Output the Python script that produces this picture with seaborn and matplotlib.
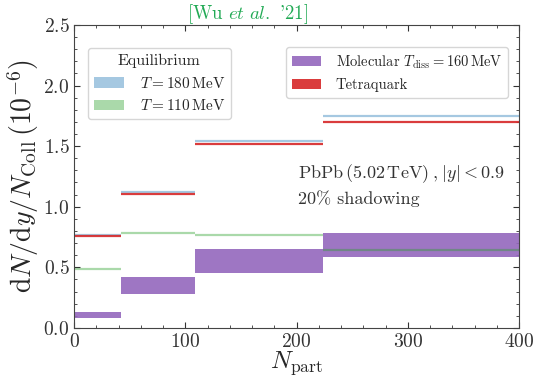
import numpy as np
import matplotlib
matplotlib.use('Agg')
import matplotlib.pyplot as plt
import matplotlib.patches as mpatches
from matplotlib.ticker import MultipleLocator
import seaborn as sns

sns.set_style('ticks')
plt.rcParams['font.family'] = 'serif'
plt.rcParams['font.serif'] = ['cmr10', 'DejaVu Serif']
plt.rcParams['mathtext.fontset'] = 'cm'
plt.rcParams['axes.formatter.use_mathtext'] = True

# N_part bin edges
edges = [0, 42, 109, 224, 400]

# equilibrium yields
eq_T180 = [0.77, 1.122, 1.545, 1.75]
eq_T110 = [0.49, 0.78, 0.765, 0.644]

# tetraquark
tetra = [0.76, 1.108, 1.518, 1.70]

# molecular band (lower, upper)
mol_lo = [0.08, 0.28, 0.456, 0.588]
mol_hi = [0.134, 0.42, 0.65, 0.786]

c_blue = (31/255, 119/255, 180/255, 0.4)
c_green = (44/255, 160/255, 44/255, 0.4)
c_purple = (148/255, 103/255, 189/255, 0.9)
c_red = (214/255, 39/255, 40/255, 0.9)

fig = plt.figure(figsize=(5.34, 3.77), dpi=100)
ax = fig.add_axes([0.139, 0.130, 0.833, 0.804])

lo_edges = edges[:-1]
hi_edges = edges[1:]

for i in range(len(mol_lo)):
    ax.fill_between([lo_edges[i], hi_edges[i]], mol_lo[i], mol_hi[i],
                    color=c_purple, lw=0)

ax.hlines(eq_T180, lo_edges, hi_edges, color=c_blue, lw=1.6)
ax.hlines(tetra, lo_edges, hi_edges, color=c_red, lw=1.6)
ax.hlines(eq_T110, lo_edges, hi_edges, color=c_green, lw=1.6)

ax.set_xlim(0, 400)
ax.set_ylim(0, 2.5)
ax.xaxis.set_major_locator(MultipleLocator(100))
ax.xaxis.set_minor_locator(MultipleLocator(20))
ax.yaxis.set_major_locator(MultipleLocator(0.5))
ax.yaxis.set_minor_locator(MultipleLocator(0.1))
ax.tick_params(which='both', direction='in', top=True, right=True,
               labelsize=14, colors='#333333')
ax.tick_params(which='major', length=4)
ax.tick_params(which='minor', length=2)
for s in ax.spines.values():
    s.set_color('#444444')

ax.set_xlabel(r'$N_{\rm part}$', fontsize=18, labelpad=-1)
ax.set_ylabel(r'$\mathrm{d}N/\mathrm{d}y/N_{\rm Coll}\,(10^{-6})$', fontsize=20,
              labelpad=2)

h1 = [mpatches.Patch(facecolor=c_blue, edgecolor='none', label=r'$T = 180\,\mathrm{MeV}$'),
      mpatches.Patch(facecolor=c_green, edgecolor='none', label=r'$T = 110\,\mathrm{MeV}$')]
leg1 = ax.legend(handles=h1, title='Equilibrium', loc='upper left',
                 bbox_to_anchor=(0.02, 0.94), fontsize=11, title_fontsize=11.5,
                 handlelength=2.0, handletextpad=1.0, borderaxespad=0.3)
ax.add_artist(leg1)

h2 = [mpatches.Patch(facecolor=c_purple, edgecolor='none',
                     label=r'Molecular $T_{\rm diss} = 160\,\mathrm{MeV}$'),
      mpatches.Patch(facecolor=c_red, edgecolor='none', label='Tetraquark')]
ax.legend(handles=h2, loc='upper right', bbox_to_anchor=(0.985, 0.94),
          fontsize=10.5, handlelength=2.0, handletextpad=1.0, borderaxespad=0.3)

ax.text(0.503, 0.495, r'$\mathrm{PbPb}\,(5.02\,\mathrm{TeV})\;,|y|<0.9$',
        transform=ax.transAxes, fontsize=13, color='#333333')
ax.text(0.503, 0.41, r'20% shadowing', transform=ax.transAxes,
        fontsize=13, color='#333333')

fig.text(0.464, 0.962, r"[Wu $et\ al.$ '21]", color='#22aa55', fontsize=13.5,
         ha='center', va='center')

fig.savefig('out.png', dpi=100)
